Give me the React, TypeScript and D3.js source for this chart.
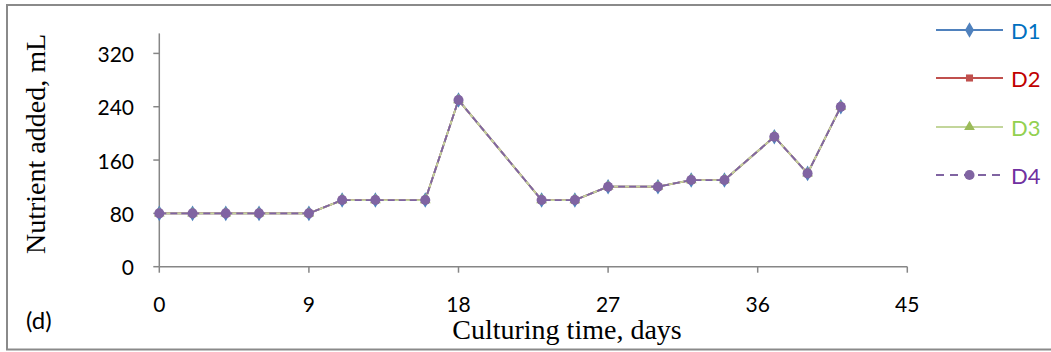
import React from "react";
import * as d3 from "d3";

const days = [0, 2, 4, 6, 9, 11, 13, 16, 18, 23, 25, 27, 30, 32, 34, 37, 39, 41];
const d1 = [80, 80, 80, 80, 80, 100, 100, 100, 250, 100, 100, 120, 120, 130, 130, 195, 140, 240];
const d2 = [80, 80, 80, 80, 80, 100, 100, 100, 250, 100, 100, 120, 120, 130, 130, 195, 140, 240];
const d3v = [80, 80, 80, 80, 80, 100, 100, 100, 250, 100, 100, 120, 120, 130, 130, 195, 140, 240];
const d4 = [80, 80, 80, 80, 80, 100, 100, 100, 250, 100, 100, 120, 120, 130, 130, 195, 140, 240];
const seriesNames = ["D1", "D2", "D3", "D4"];
const xTicks = [0, 9, 18, 27, 36, 45];
const yTicks = [0, 80, 160, 240, 320];

const W = 1051;
const H = 352;

const lineColors = ["#4F81BD", "#C0504D", "#C3D69B", "#8064A2"];
const markerColors = ["#4F81BD", "#C0504D", "#9BBB59", "#8064A2"];
const textColors = ["#0070C0", "#C00000", "#92D050", "#7030A0"];
const symbols = [d3.symbolDiamond, d3.symbolSquare, d3.symbolTriangle, d3.symbolCircle];
const symSizes = [70, 50, 50, 80];

export default function App() {
  const x = d3.scaleLinear().domain([0, 45]).range([159.3, 907.3]);
  const y = d3.scaleLinear().domain([0, 350]).range([266.7, 33.4]);
  const all = [d1, d2, d3v, d4];
  const line = d3
    .line<number>()
    .x((_, i) => x(days[i]))
    .y((v) => y(v));
  const axisColor = "#868686";
  const tickFont = "Lato, 'Open Sans', sans-serif";
  const legendYs = [30, 78, 127, 175];

  return (
    <svg
      width={W}
      height={H}
      style={{ position: "absolute", left: 0, top: 0, background: "#fff" }}
    >
      <rect x={7} y={5} width={1100} height={344.5} fill="#fff" stroke="#8a8a8a" strokeWidth={2} />

      {/* axes */}
      <line x1={x(0)} x2={x(0)} y1={y(350)} y2={y(0)} stroke={axisColor} strokeWidth={1.5} />
      <line x1={x(0)} x2={x(45)} y1={y(0)} y2={y(0)} stroke={axisColor} strokeWidth={1.5} />
      {yTicks.map((t) => (
        <g key={"y" + t}>
          <line x1={x(0) - 6} x2={x(0)} y1={y(t)} y2={y(t)} stroke={axisColor} strokeWidth={1.5} />
          <text
            x={134}
            y={y(t)}
            textAnchor="end"
            dominantBaseline="central"
            fontFamily={tickFont}
            fontSize={21}
            fill="#000"
          >
            {t}
          </text>
        </g>
      ))}
      {xTicks.map((t) => (
        <g key={"x" + t}>
          <line x1={x(t)} x2={x(t)} y1={y(0)} y2={y(0) + 6} stroke={axisColor} strokeWidth={1.5} />
          <text
            x={x(t)}
            y={303}
            textAnchor="middle"
            dominantBaseline="central"
            fontFamily={tickFont}
            fontSize={21}
            fill="#000"
          >
            {t}
          </text>
        </g>
      ))}

      {/* series */}
      {all.map((vals, si) => (
        <g key={"s" + si}>
          <path
            d={line(vals) || ""}
            fill="none"
            stroke={lineColors[si]}
            strokeWidth={1.8}
            strokeDasharray={si === 3 ? "7,4" : undefined}
          />
        </g>
      ))}
      {all.map((vals, si) => (
        <g key={"m" + si}>
          {vals.map((v, i) => (
            <path
              key={i}
              d={d3.symbol().type(symbols[si]).size(symSizes[si])() || ""}
              transform={`translate(${x(days[i])},${y(v)})`}
              fill={markerColors[si]}
            />
          ))}
        </g>
      ))}

      {/* legend */}
      {seriesNames.map((n, si) => (
        <g key={"l" + si}>
          <line
            x1={936}
            x2={1003}
            y1={legendYs[si]}
            y2={legendYs[si]}
            stroke={lineColors[si]}
            strokeWidth={1.8}
            strokeDasharray={si === 3 ? "8,6" : undefined}
          />
          <path
            d={d3.symbol().type(symbols[si]).size(symSizes[si])() || ""}
            transform={`translate(969.5,${legendYs[si]})`}
            fill={markerColors[si]}
          />
          <text
            x={1011}
            y={legendYs[si]}
            dominantBaseline="central"
            fontFamily={tickFont}
            fontSize={22}
            fill={textColors[si]}
          >
            {n}
          </text>
        </g>
      ))}

      {/* titles */}
      <text
        transform="translate(45,144) rotate(-90)"
        textAnchor="middle"
        fontFamily="'Liberation Serif', 'Times New Roman', serif"
        fontSize={28}
        fill="#000"
      >
        Nutrient added, mL
      </text>
      <text
        x={567}
        y={339}
        textAnchor="middle"
        fontFamily="'Liberation Serif', 'Times New Roman', serif"
        fontSize={28}
        fill="#000"
      >
        Culturing time, days
      </text>
      <text
        x={26}
        y={319}
        dominantBaseline="central"
        fontFamily={tickFont}
        fontSize={24}
        fill="#000"
      >
        (d)
      </text>
    </svg>
  );
}
